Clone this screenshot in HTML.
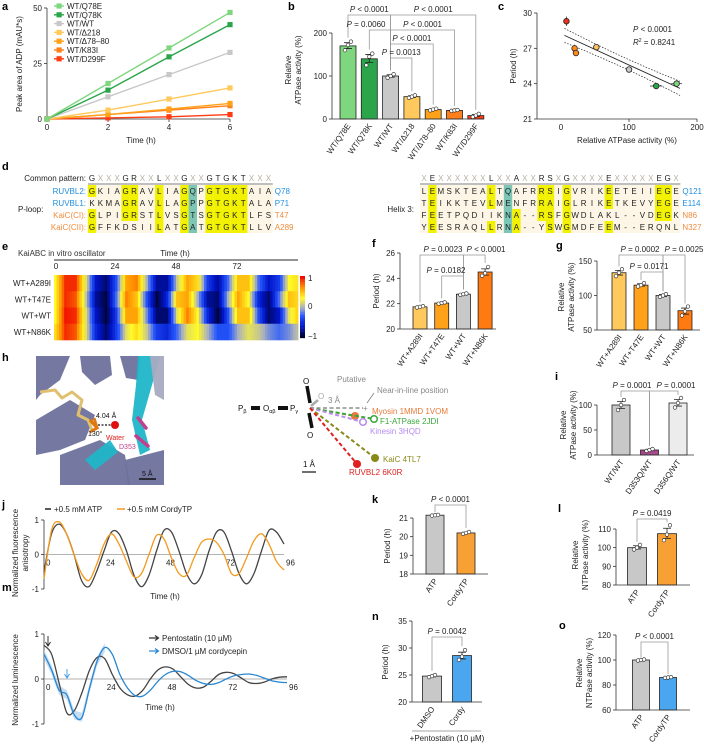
<!DOCTYPE html>
<html><head><meta charset="utf-8"><style>
html,body{margin:0;padding:0;background:#fff;}
svg{display:block;font-family:"Liberation Sans",Arial,sans-serif;}
</style></head><body>
<svg id="fig" width="704" height="744" viewBox="0 0 704 744" xmlns="http://www.w3.org/2000/svg">
<rect width="704" height="744" fill="#fff"/>
</svg>
<script>
// ---------- DATA ----------
const aTimes=[0,2,4,6];
const aSeries=['WT/Q78E','WT/Q78K','WT/WT','WT/Δ218','WT/Δ78–80','WT/K83I','WT/D299F'];
const aQ78E=[0,16,32,48];
const aQ78K=[0,13,28,42.5];
const aWT=[0,10,20,30];
const aD218=[0,4,9,14];
const aD7880=[0,2,4.5,7];
const aK83I=[0,2,4,6];
const aD299F=[0,0.5,1,2];
const aYTicks=[0,25,50];
const aXTicks=[0,2,4,6];

const bCats=['WT/Q78E','WT/Q78K','WT/WT','WT/Δ218','WT/Δ78–80','WT/K83I','WT/D299F'];
const bVals=[170,140,100,52,22,20,8];
const bErr=[10,12,3,2,1.5,1.5,3];
const bReps=[[160,172,180],[125,145,152],[96,100,104],[49,52,55],[20,22,24],[19,20,21],[5,8,12]];
const bTicks=[0,100,200];

const cX=[8,20,22,52,100,140,170];
const cY=[29.3,27.0,26.6,27.1,25.2,23.8,24.0];
const cXerr=[1,1,1,2,3,9,8];
const cYerr=[0.4,0.3,0.2,0.1,0.15,0.1,0.2];
const cFitX=[5,175];
const cFitY=[28.1,23.6];
const cXTicks=[100,200];
const cYTicks=[21,24,27,30];

const eRows=['WT+A289I','WT+T47E','WT+WT','WT+N86K'];
const eTimes=[0,4,8,12,16,20,24,28,32,36,40,44,48,52,56,60,64,68,72,76,80,84,88,92,96];
const eA289I=[0.3,0.9,0.9,0.2,-0.6,-0.8,-0.3,0.6,0.7,0,-0.7,-0.7,0.1,0.6,0.4,-0.4,-0.7,-0.2,0.5,0.5,-0.2,-0.6,-0.4,0.3,0.4];
const eT47E=[0.3,0.9,0.8,0.1,-0.7,-0.9,-0.2,0.7,0.5,-0.3,-0.9,-0.5,0.5,0.6,0,-0.7,-0.8,0,0.6,0.3,-0.5,-0.8,-0.2,0.5,0.4];
const eWT=[0.3,0.95,0.9,0.2,-0.6,-0.9,-0.4,0.6,0.6,-0.1,-0.8,-0.8,0.2,0.7,0.3,-0.5,-0.9,-0.3,0.5,0.5,-0.3,-0.8,-0.6,0.2,0.5];
const eN86K=[0.4,0.9,0.8,0.2,-0.5,-0.8,-0.4,0.2,0.4,0.1,-0.4,-0.5,-0.2,0.2,0.3,0,-0.3,-0.3,0,0.2,0.1,-0.1,-0.2,-0.1,0.1];
const eXTicks=[0,24,48,72];

const fCats=['WT+A289I','WT+T47E','WT+WT','WT+N86K'];
const fVals=[21.75,22.05,22.75,24.5];
const fReps=[[21.7,21.75,21.8],[22.0,22.05,22.1],[22.7,22.75,22.8],[24.2,24.4,24.9]];
const fTicks=[20,22,24,26];

const gCats=['WT+A289I','WT+T47E','WT+WT','WT+N86K'];
const gVals=[133,115,100,78];
const gReps=[[128,133,138],[113,115,118],[98,100,102],[71,77,84]];
const gTicks=[50,100,150];

const iCats=['WT/WT','D353Q/WT','D356Q/WT'];
const iVals=[100,10,104];
const iReps=[[90,100,110],[8,10,12],[95,104,114]];
const iTicks=[0,50,100];

const jTimes=[0,3,6,9,12,15,18,21,24,27,30,33,36,39,42,45,48,51,54,57,60,63,66,69,72,75,78,81,84,87,90,93,96];
const jATP=[-0.5,0.6,0.88,0.6,0.0,-0.75,-0.93,-0.5,0.1,0.65,0.6,0.1,-0.6,-0.93,-0.6,0.1,0.7,0.65,0.1,-0.55,-0.85,-0.6,0.1,0.65,0.65,0.1,-0.55,-0.85,-0.55,0.1,0.7,0.65,0.3];
const jCordy=[-0.7,0.7,0.95,0.6,0.0,-0.55,-0.75,-0.3,0.3,0.6,0.3,-0.2,-0.65,-0.55,0.0,0.55,0.45,-0.1,-0.55,-0.6,-0.1,0.35,0.45,0.35,0.0,-0.55,-0.55,-0.1,0.4,0.6,0.3,-0.2,-0.45];
const jXTicks=[0,24,48,72,96];
const jYTicks=[-1,0,1];

const kCats=['ATP','CordyTP'];
const kVals=[21.15,20.2];
const kReps=[[21.13,21.15,21.17],[20.15,20.2,20.25]];
const kTicks=[18,19,20,21];

const lCats=['ATP','CordyTP'];
const lVals=[100,107.5];
const lReps=[[99,100,101.5],[104,107,112]];
const lTicks=[80,90,100,110];

const mTimes=[0,3,6,9,12,15,18,21,24,27,30,33,36,39,42,45,48,51,54,57,60,63,66,69,72,75,78,81,84,87,90,93,96];
const mPento=[0.75,0.55,-0.1,-0.75,-0.7,-0.3,0.2,0.48,0.45,0.1,-0.2,-0.35,-0.38,-0.25,0.0,0.2,0.27,0.22,0.05,-0.12,-0.2,-0.18,-0.05,0.1,0.15,0.12,0.02,-0.08,-0.1,-0.07,0.0,0.04,0.05];
const mCordy=[0.55,0.2,-0.25,-0.35,-0.8,-0.85,-0.2,0.4,0.7,0.55,0.1,-0.2,-0.37,-0.38,-0.25,-0.05,0.1,0.17,0.16,0.08,-0.03,-0.1,-0.12,-0.08,0.0,0.07,0.1,0.11,0.08,0.02,-0.04,-0.07,-0.08];
const mXTicks=[0,24,48,72,96];
const mYTicks=[-1,0,1];

const nCats=['DMSO','Cordy'];
const nVals=[24.8,28.6];
const nReps=[[24.6,24.8,25.0],[27.8,28.4,29.6]];
const nTicks=[20,25,30,35];

const oCats=['ATP','CordyTP'];
const oVals=[100,86];
const oReps=[[99.6,100,100.4],[85.7,86,86.3]];
const oTicks=[60,80,100,120];

// ---------- HELPERS ----------
const NS='http://www.w3.org/2000/svg';
const svg=document.getElementById('fig');
function mk(tag,attrs,parent){const e=document.createElementNS(NS,tag);for(const k in attrs)e.setAttribute(k,attrs[k]);(parent||svg).appendChild(e);return e;}
function txt(x,y,s,opt,parent){const e=mk('text',Object.assign({x:x,y:y,'font-size':8,fill:'#222'},opt||{}),parent);e.textContent=s;return e;}
function lin(d0,d1,r0,r1){return v=>r0+(v-d0)/(d1-d0)*(r1-r0);}
function grp(name){const g=mk('g',{});


return g;}
function panelLabel(x,y,s){const t=txt(x,y,s,{'font-size':11,'font-weight':'bold',fill:'#000'});

}
function yAxis(g,x,ys,ticks){
const l=mk('line',{x1:x,x2:x,y1:ys(ticks[0]),y2:ys(ticks[ticks.length-1]),stroke:'#333','stroke-width':0.8},g);


ticks.forEach(v=>{const y=ys(v);
const tk=mk('line',{x1:x-3,x2:x,y1:y,y2:y,stroke:'#333','stroke-width':0.8},g);


const t=txt(x-5,y+3,String(v),{'text-anchor':'end'},g);

});}
function yTitle(g,x,y,lines){lines.forEach((s,i)=>{const t=txt(x+i*10,y,s,{'text-anchor':'middle',transform:`rotate(-90 ${x+i*10} ${y})`},g);

});}
function xAxis(g,y,xs,ticks,x0,x1,labelOffset){
const l=mk('line',{x1:x0,x2:x1,y1:y,y2:y,stroke:'#333','stroke-width':0.8},g);


ticks.forEach(v=>{const x=xs(v);
const tk=mk('line',{x1:x,x2:x,y1:y,y2:y+3,stroke:'#333','stroke-width':0.8},g);


const t=txt(x,y+(labelOffset||11),String(v),{'text-anchor':'middle'},g);

});}
function bracket(g,x1,x2,y,y1b,y2b,label,tx){
const p=mk('path',{d:`M${x1},${y1b} V${y} H${x2} V${y2b}`,fill:'none',stroke:'#999','stroke-width':0.8},g);


const t=txt(tx!==undefined?tx:(x1+x2)/2,y-3,'',{'text-anchor':'middle'},g);


const parts=label.split(' ');
const it=mk('tspan',{'font-style':'italic'},t);it.textContent=parts[0];
const rest=mk('tspan',{},t);rest.textContent=' '+parts.slice(1).join(' ');}
function bars(g,cats,vals,reps,colors,ys,base,cx0,step,w,axisX,xAxisEnd){
const cx=i=>cx0+i*step;
cats.forEach((c,i)=>{const top=ys(vals[i]);
const r=mk('rect',{x:cx(i)-w/2,y:top,width:w,height:base-top,fill:colors[i],stroke:'#222','stroke-width':0.8},g);


const rv=reps[i];const mn=rv.reduce((a,b)=>a+b,0)/rv.length;
const sd=Math.sqrt(rv.reduce((a,b)=>a+(b-mn)*(b-mn),0)/rv.length)/1.2;
const eb=mk('path',{d:`M${cx(i)},${ys(mn-sd)} V${ys(mn+sd)} M${cx(i)-4},${ys(mn+sd)} H${cx(i)+4} M${cx(i)-4},${ys(mn-sd)} H${cx(i)+4}`,stroke:'#222','stroke-width':0.8,fill:'none'},g);


rv.forEach((v,k)=>{const d=mk('circle',{cx:cx(i)+(k-1)*3,cy:ys(v),r:1.8,fill:'#fff',stroke:'#222','stroke-width':0.6},g);

});
const t=txt(cx(i)+3,base+7,c,{'text-anchor':'end',transform:`rotate(-55 ${cx(i)+3} ${base+7})`},g);

});
const xl=mk('line',{x1:axisX,x2:xAxisEnd,y1:base,y2:base,stroke:'#333','stroke-width':0.8},g);


return cx;}
function smooth(pts){let d=`M${pts[0][0].toFixed(1)},${pts[0][1].toFixed(1)}`;
for(let i=0;i<pts.length-1;i++){const p0=pts[i-1]||pts[i],p1=pts[i],p2=pts[i+1],p3=pts[i+2]||p2;
d+=` C${(p1[0]+(p2[0]-p0[0])/6).toFixed(1)},${(p1[1]+(p2[1]-p0[1])/6).toFixed(1)} ${(p2[0]-(p3[0]-p1[0])/6).toFixed(1)},${(p2[1]-(p3[1]-p1[1])/6).toFixed(1)} ${p2[0].toFixed(1)},${p2[1].toFixed(1)}`;}
return d;}

// ---------- PANEL A ----------
(function(){const g=grp('panel-a');panelLabel(2,10,'a');
const xs=lin(0,6,47,230),ys=lin(0,50,119,8);
yAxis(g,47,ys,aYTicks);xAxis(g,119,xs,aXTicks,47,230);
yTitle(g,22,64,['Peak area of ADP (mAU*s)']);
const tt=txt(141,143,'Time (h)',{'text-anchor':'middle'},g);


const series=[aQ78E,aQ78K,aWT,aD218,aD7880,aK83I,aD299F];
const cols=['#7ed67e','#2aa54a','#c8c8c8','#ffc95e','#ffa21a','#ff7f1a','#ff3c14'];
series.slice().reverse().forEach((s,ri)=>{const i=series.length-1-ri;
const pl=mk('polyline',{points:s.map((v,k)=>`${xs(aTimes[k])},${ys(v)}`).join(' '),fill:'none',stroke:cols[i],'stroke-width':1.4},g);


s.forEach((v,k)=>{const m=mk('rect',{x:xs(aTimes[k])-2.6,y:ys(v)-2.6,width:5.2,height:5.2,fill:cols[i]},g);

});});
aSeries.forEach((n,i)=>{const y=6+i*8.8;
const ll=mk('line',{x1:54,x2:64,y1:y,y2:y,stroke:cols[i],'stroke-width':1.4},g);


const lm=mk('rect',{x:56.5,y:y-2.6,width:5.2,height:5.2,fill:cols[i]},g);


const lt=txt(67,y+3,n,{},g);

});})();

// ---------- PANEL B ----------
(function(){const g=grp('panel-b');panelLabel(288,10,'b');
const ys=lin(0,200,119,33);
yAxis(g,332,ys,bTicks);yTitle(g,291,70,['Relative','ATPase activity (%)']);
const cols=['#7ed67e','#2aa54a','#c8c8c8','#ffc95e','#ffa21a','#ff7f1a','#ff3c14'];
const cx=bars(g,bCats,bVals,bReps,cols,ys,119,348,21.3,16,332,484);
const legB=i=>ys(Math.max(...bReps[i]))-4;
bracket(g,cx(0),cx(2),15,legB(0),legB(2),'P < 0.0001');
bracket(g,cx(2),cx(6),15,legB(2),legB(6),'P < 0.0001');
bracket(g,cx(1),cx(2),30,legB(1),legB(2),'P = 0.0060',366);
bracket(g,cx(2),cx(5),30,legB(2),legB(5),'P < 0.0001');
bracket(g,cx(2),cx(4),44,legB(2),legB(4),'P < 0.0001');
bracket(g,cx(2),cx(3),58,legB(2),legB(3),'P = 0.0013');})();

// ---------- PANEL C ----------
(function(){const g=grp('panel-c');panelLabel(498,10,'c');
const xs=lin(0,200,561,697),ys=lin(21,30,119,13);
yAxis(g,537,ys,cYTicks);
xAxis(g,119,xs,cXTicks,537,697);
const z=txt(561,130,'0',{'text-anchor':'middle'},g);


yTitle(g,516,66,['Period (h)']);
const tt=txt(627,143,'Relative ATPase activity (%)',{'text-anchor':'middle'},g);


const f=mk('line',{x1:xs(cFitX[0]),y1:ys(cFitY[0]),x2:xs(cFitX[1]),y2:ys(cFitY[1]),stroke:'#222','stroke-width':0.9},g);


[0.6,-0.6].forEach(off=>{const p=mk('path',{d:`M${xs(cFitX[0])},${ys(cFitY[0]+off)} Q${xs(90)},${ys((cFitY[0]+cFitY[1])/2+off*0.5)} ${xs(cFitX[1])},${ys(cFitY[1]+off)}`,fill:'none',stroke:'#222','stroke-width':0.7,'stroke-dasharray':'1.5,1.5'},g);

});
const cols=['#e8301c','#ff8a1a','#ff8a1a','#ffc45e','#c8c8c8','#2aa54a','#7ed67e'];
cX.forEach((v,i)=>{const e=mk('path',{d:`M${xs(v-cXerr[i])},${ys(cY[i])} H${xs(v+cXerr[i])} M${xs(v)},${ys(cY[i]-cYerr[i])} V${ys(cY[i]+cYerr[i])}`,stroke:'#222','stroke-width':0.7},g);


const c=mk('circle',{cx:xs(v),cy:ys(cY[i]),r:2.8,fill:cols[i],stroke:'#222','stroke-width':0.8},g);

});
const p1=txt(633,32,'',{},g);p1.innerHTML='<tspan font-style="italic">P</tspan> &lt; 0.0001';


const p2=txt(633,45,'',{},g);p2.innerHTML='<tspan font-style="italic">R</tspan><tspan font-size="5" dy="-3">2</tspan><tspan dy="3"> = 0.8241</tspan>';

})();

// ---------- PANEL D ----------
(function(){const g=grp('panel-d');panelLabel(2,170,'d');
const step=8.4;
const leftCommon='GXXXGRXXLXXGXXGTGKTXXX';
const leftRows=['GKIAGRAVLIAGQPGTGKTAIA','KKMAGRAVLLAGPPGTGKTALA','GLPIGRSTLVSGTSGTGKTLFS','GFFKDSIILATGATGTGKTLLV'];
const leftY=[[0,4,5,8,11,14,15,16,17,18],[4,5,8,11,14,15,16,17,18],[0,4,5,8,11,14,15,16,17,18],[0,8,11,14,15,16,17,18]];
const leftNames=['RUVBL2:','RUVBL1:','KaiC(CI):','KaiC(CII):'];
const leftEnd=['Q78','P71','T47','A289'];
const rightCommon='XEXXXXXXLXXAXXRSXGXXXXEXXXXXEGX';
const rightRows=['LEMSKTEALTQAFRRSIGVRIKEETEIIEGE','TEIKKTEVLMENFRRAIGLRIKETKEVYEGE','FEETPQDIIKNA--RSFGWDLAKL--VDEGK','YEESRAQLLRNA--YSWGMDFEEM--ERQNL'];
const rightY=[[1,8,14,15,17,22,28,29],[1,8,14,15,17,22,28,29],[1,11,14,15,17,28,29],[1,8,11,15,17,22]];
const rightEnd=['Q121','E114','N86','N327'];
const rowY=[191,203,215,227];
const nameCol=['#1f8fe0','#1f8fe0','#f08c3c','#f08c3c'];
function block(x0,common,rows,yl,ends){
const bg=mk('rect',{x:x0-4,y:185,width:common.length*step,height:48,fill:'#fdf6e6'},g);


const sep=mk('line',{x1:x0-4,x2:x0-4+common.length*step,y1:184,y2:184,stroke:'#999','stroke-width':1.2},g);


common.split('').forEach((ch,k)=>{const t=txt(x0+k*step,181,ch,{'text-anchor':'middle',fill:ch==='X'?'#b8b0a0':'#222'},g);

});
rows.forEach((r,ri)=>{r.split('').forEach((ch,k)=>{
if(yl[ri].includes(k)){const h=mk('rect',{x:x0+k*step-4.2,y:rowY[ri]-6,width:step,height:12,fill:'#f2f200'},g);

}
if(k===10+(common.length===22?2:0)){const h=mk('rect',{x:x0+k*step-4.2,y:rowY[ri]-6,width:step,height:12,fill:'#7cc6b6'},g);

}
const t=txt(x0+k*step,rowY[ri]+3,ch,{'text-anchor':'middle'},g);

});
const e=txt(x0+common.length*step-2,rowY[ri]+3,ends[ri],{fill:nameCol[ri]},g);

});}
block(92,leftCommon,leftRows,leftY,leftEnd);
block(424,rightCommon,rightRows,rightY,rightEnd);
const cp=txt(86,181,'Common pattern:',{'text-anchor':'end'},g);


leftNames.forEach((n,i)=>{const t=txt(86,rowY[i]+3,n,{'text-anchor':'end',fill:nameCol[i]},g);

});
const pl=txt(18,212,'P-loop:',{},g);


const hl=txt(414,212,'Helix 3:',{'text-anchor':'end'},g);

})();

// ---------- PANEL E ----------
(function(){const g=grp('panel-e');panelLabel(2,250,'e');
const st=txt(18,256,'KaiABC in vitro oscillator',{fill:'#333'},g);


const tt=txt(175,256,'Time (h)',{'text-anchor':'middle'},g);


const xs=lin(0,96,54,298);
const al=mk('line',{x1:54,x2:298,y1:260,y2:260,stroke:'#555','stroke-width':1.2},g);


eXTicks.forEach(v=>{const t=txt(xs(v)+(v===0?2:0),269,String(v),{'text-anchor':'middle'},g);

});
const stops=[[-1,[0,0,20]],[-0.6,[0,20,200]],[-0.25,[40,90,255]],[0,[170,175,190]],[0.3,[255,250,40]],[0.65,[255,150,0]],[1,[240,0,0]]];
function cmap(v){v=Math.max(-1,Math.min(1,v));for(let i=0;i<stops.length-1;i++){const [a,ca]=stops[i],[b,cb]=stops[i+1];if(v<=b){const t=(v-a)/(b-a);return `rgb(${ca.map((c,k)=>Math.round(c+(cb[k]-c)*t)).join(',')})`;}}return 'rgb(240,0,0)';}
const rows=[eA289I,eT47E,eWT,eN86K];
const rh=16.25,y0=275;
rows.forEach((r,ri)=>{
for(let k=0;k<eTimes.length-1;k++){for(let s=0;s<4;s++){const t0=eTimes[k]+s;const v=r[k]+(r[k+1]-r[k])*(s/4);
const c=mk('rect',{x:xs(t0),y:y0+ri*rh,width:xs(t0+1)-xs(t0)+0.4,height:rh+0.3,fill:cmap(v)},g);

}}
const lb=txt(51,y0+ri*rh+rh/2+3,eRows[ri],{'text-anchor':'end'},g);

});
for(let i=0;i<40;i++){const v=1-i*2/40;const c=mk('rect',{x:300,y:276+i*1.55,width:5,height:1.7,fill:cmap(v)},g);

}
[['1',281],['0',309],['−1',339]].forEach(([s,y])=>{const t=txt(308,y,s,{},g);

});})();

// ---------- PANEL F ----------
(function(){const g=grp('panel-f');panelLabel(372,247,'f');
const ys=lin(20,26,329,253);
yAxis(g,400,ys,fTicks);yTitle(g,379,291,['Period (h)']);
const cx=bars(g,fCats,fVals,fReps,['#ffc95e','#ffa21a','#c8c8c8','#ff7a10'],ys,329,420,21.7,14,400,496);
const lb=i=>ys(Math.max(...fReps[i]))-4;
bracket(g,cx(0),cx(2),255,lb(0),lb(2),'P = 0.0023',443);
bracket(g,cx(2),cx(3),255,lb(2),lb(3),'P < 0.0001',486);
bracket(g,cx(1),cx(2),276,lb(1),lb(2),'P = 0.0182',446);})();

// ---------- PANEL G ----------
(function(){const g=grp('panel-g');panelLabel(556,249,'g');
const ys=lin(50,150,330,261);
yAxis(g,597,ys,gTicks);yTitle(g,564,297,['Relative','ATPase activity (%)']);
const cx=bars(g,gCats,gVals,gReps,['#ffc95e','#ffa21a','#c8c8c8','#ff7a10'],ys,330,619,22,14,597,700);
const lb=i=>ys(Math.max(...gReps[i]))-3;
bracket(g,cx(0),cx(2),255,lb(0),lb(2),'P = 0.0002',640);
bracket(g,cx(2),cx(3),255,lb(2),lb(3),'P = 0.0025',684);
bracket(g,cx(1),cx(2),272,lb(1),lb(2),'P = 0.0171',649);})();

// ---------- PANEL H ----------
(function(){const g=grp('panel-h');panelLabel(2,361,'h');
const sg=grp('protein-structure-image');
const cl=mk('clipPath',{id:'hclip'},sg);mk('rect',{x:36,y:356,width:128,height:129},cl);
const s=mk('g',{'clip-path':'url(#hclip)'},sg);
mk('rect',{x:36,y:356,width:128,height:129,fill:'#fff'},s);
const P='#6e719c',C='#20b6c8';
[['M36,356 L70,356 L60,380 L40,395 L36,400Z',P],['M80,356 L110,356 L112,375 L95,385 L82,372Z',P],['M120,356 L140,356 L138,380 L126,378Z',P],
['M36,420 L70,400 L95,415 L85,440 L60,450 L36,455Z',P],['M60,455 L100,440 L125,455 L130,485 L60,485Z',P],['M125,460 L164,450 L164,485 L128,485Z',P],
['M85,460 L110,440 L118,452 L95,470Z',C],['M138,356 L160,356 L152,385 L142,420 L150,450 L140,455 L132,420 L136,385Z',C],['M150,356 L164,356 L164,400 L155,395Z','#a8aac0']].forEach(([d,f])=>{
const p=mk('path',{d:d,fill:f,opacity:0.95},s);

});
const lig=mk('path',{d:'M40,392 L55,390 L62,398 L72,392 L82,400 L78,415 L88,420 L92,430',fill:'none',stroke:'#e0c070','stroke-width':3,'stroke-linejoin':'round'},s);


const ph=mk('path',{d:'M90,420 L97,428 L90,432 M97,428 L94,418',fill:'none',stroke:'#e07810','stroke-width':3},s);


const d3=mk('path',{d:'M138,418 L146,428 M136,436 L148,446',fill:'none',stroke:'#c0408e','stroke-width':3.5,'stroke-linecap':'round'},s);


const dl=mk('line',{x1:98,y1:425,x2:112,y2:425,stroke:'#111','stroke-width':1.2,'stroke-dasharray':'2,1.5'},s);


const w=mk('circle',{cx:115,cy:425,r:4,fill:'#e01010'},s);


[['4.04 Å',96,418,'#111'],['130°',88,436,'#111'],['Water',106,440,'#e02020'],['D353',119,449,'#c0408e'],['5 Å',142,476,'#111']].forEach(([t,x,y,c])=>{const e=txt(x,y,t,{fill:c,'font-size':7},s);

});
const sb=mk('line',{x1:139,x2:156,y1:479,y2:479,stroke:'#111','stroke-width':1.5},s);


// geometry diagram
const dg=grp('geometry-diagram');
function lab(x,y,base,sub,fill){const t=txt(x,y,'',{fill:fill||'#111'},dg);t.innerHTML=base+(sub?`<tspan font-size="5.5" dy="2">${sub}</tspan>`:'');

}
lab(238,411,'P','β');lab(263,411,'O','αβ');lab(290,411,'P','γ');
[[251,260],[278,288]].forEach(([a,b])=>{const r=mk('rect',{x:a,y:406,width:b-a,height:4,fill:'#111'},dg);

});
const ps=[[310,403,307,386,'#111'],[309,413,312,428,'#111'],[311,406,318,400,'#aaa']];
ps.forEach(([a,b,c,d,col])=>{const l=mk('line',{x1:a,y1:b,x2:c,y2:d,stroke:col,'stroke-width':col==='#aaa'?2.5:3.5},dg);

});
lab(303,384,'O');lab(318,399,'O','', '#aaa');lab(307,438,'O');
const rays=[[363,408,'#aaa',null,'near-in-line'],[355,416,'#e87a3a','#e87a3a','myosin'],[374,419,'#3aa83a','#fff','f1-atpase'],[363,422,'#b78cf0','#fff','kinesin'],[375,458,'#8a8a1a','#8a8a1a','kaic'],[357,464,'#e02020','#e02020','ruvbl2']];
rays.forEach(([x,y,col,fill,n])=>{const l=mk('line',{x1:310,y1:408,x2:x,y2:y,stroke:col,'stroke-width':2,'stroke-dasharray':'4,2.5'},dg);


if(fill){const c=mk('circle',{cx:x,cy:y,r:3.3,fill:fill,stroke:col,'stroke-width':1.5},dg);

}});
const pls=txt(363,411,'+',{fill:'#888'},dg);


const ar=mk('line',{x1:374,y1:393,x2:367,y2:403,stroke:'#777','stroke-width':0.7},dg);


[['Putative',337,382,'#888'],['Near-in-line position',377,393,'#888'],['3 Å',328,403,'#888'],['Myosin 1MMD 1VOM',372,414,'#e87a3a'],['F1-ATPase 2JDI',380,424,'#3aa83a'],['Kinesin 3HQD',370,434,'#b78cf0'],['KaiC 4TL7',383,462,'#8a8a1a'],['RUVBL2 6K0R',349,475,'#e02020'],['1 Å',303,467,'#111']].forEach(([t,x,y,c])=>{const e=txt(x,y,t,{fill:c},dg);

});
const sb2=mk('line',{x1:302,x2:316,y1:472,y2:472,stroke:'#111','stroke-width':1.2},dg);

})();

// ---------- PANEL I ----------
(function(){const g=grp('panel-i');panelLabel(555,380,'i');
const ys=lin(0,100,455,405);
yAxis(g,597,ys,iTicks);yTitle(g,566,425,['Relative','ATPase activity (%)']);
const cx=bars(g,iCats,iVals,iReps,['#c8c8c8','#a8478c','#ececec'],ys,455,621,28.5,18,597,694);
const lb=i=>ys(Math.max(...iReps[i]))-3;
bracket(g,cx(0),cx(1),391,lb(0),lb(1),'P = 0.0001',632);
bracket(g,cx(1),cx(2),391,lb(1),lb(2),'P = 0.0001',676);})();

// ---------- PANEL J ----------
(function(){const g=grp('panel-j');panelLabel(2,508,'j');
const xs=lin(0,96,44,284),ys=lin(-1,1,589,520);
yAxis(g,44,ys,jYTicks);
const zl=mk('line',{x1:44,x2:284,y1:ys(0),y2:ys(0),stroke:'#999','stroke-width':0.8},g);


jXTicks.forEach(v=>{const t=txt(xs(v)+2,ys(0)+11,String(v),{},g);

});
yTitle(g,18,553,['Normalized fluorescence','anisotropy']);
const tt=txt(165,599,'Time (h)',{'text-anchor':'middle'},g);


const a=mk('path',{d:smooth(jTimes.map((t,i)=>[xs(t),ys(jATP[i])])),fill:'none',stroke:'#444','stroke-width':1.3},g);


const c=mk('path',{d:smooth(jTimes.map((t,i)=>[xs(t),ys(jCordy[i])])),fill:'none',stroke:'#f39a1e','stroke-width':1.3},g);


const l1=mk('line',{x1:45,x2:51,y1:509,y2:509,stroke:'#222','stroke-width':1.5},g);


const t1=txt(54,512,'+0.5 mM ATP',{},g);


const l2=mk('line',{x1:117,x2:125,y1:509,y2:509,stroke:'#f39a1e','stroke-width':1.5},g);


const t2=txt(127,512,'+0.5 mM CordyTP',{},g);

})();

// ---------- PANEL K ----------
(function(){const g=grp('panel-k');panelLabel(372,503,'k');
const ys=lin(18,21,574,518);
yAxis(g,413,ys,kTicks);yTitle(g,390,546,['Period (h)']);
const cx=bars(g,kCats,kVals,kReps,['#c8c8c8','#f7a034'],ys,574,435,31,18,413,488);
bracket(g,cx(0),cx(1),505,ys(21.2)-2,ys(20.3)-3,'P < 0.0001');})();

// ---------- PANEL L ----------
(function(){const g=grp('panel-l');panelLabel(558,512,'l');
const ys=lin(80,110,585,529);
yAxis(g,616,ys,lTicks);yTitle(g,578,555,['Relative','NTPase activity (%)']);
const cx=bars(g,lCats,lVals,lReps,['#c8c8c8','#f7a034'],ys,585,637,30,19,616,690);
bracket(g,cx(0),cx(1),519,ys(102)-2,ys(112)-3,'P = 0.0419');})();

// ---------- PANEL M ----------
(function(){const g=grp('panel-m');panelLabel(2,591,'m');
const xs=lin(0,96,44,287),ys=lin(-1,1,724,634);
yAxis(g,44,ys,mYTicks);
const zl=mk('line',{x1:44,x2:287,y1:ys(0),y2:ys(0),stroke:'#999','stroke-width':0.8},g);


mXTicks.forEach(v=>{const t=txt(xs(v)+2,ys(0)+11,String(v),{},g);

});
yTitle(g,18,680,['Normalized luminescence']);
const tt=txt(160,710,'Time (h)',{'text-anchor':'middle'},g);


const n=9;const up=mTimes.slice(0,n).map((t,i)=>[xs(t),ys(mCordy[i]+0.1)]);const dn=mTimes.slice(0,n).map((t,i)=>[xs(t),ys(mCordy[i]-0.1)]).reverse();
const band=mk('path',{d:'M'+up.map(p=>p.join(',')).join(' L')+' L'+dn.map(p=>p.join(',')).join(' L')+'Z',fill:'#9cc8ee',opacity:0.6},g);


const a=mk('path',{d:smooth(mTimes.map((t,i)=>[xs(t),ys(mPento[i])])),fill:'none',stroke:'#444','stroke-width':1.3},g);


const c=mk('path',{d:smooth(mTimes.map((t,i)=>[xs(t),ys(mCordy[i])])),fill:'none',stroke:'#2a86d0','stroke-width':1.3},g);


const ar1=mk('path',{d:'M48,636 V645 M45.5,642 L48,646 L50.5,642',fill:'none',stroke:'#222','stroke-width':0.9},g);


const ar2=mk('path',{d:'M67,669 V677 M64.5,674 L67,678 L69.5,674',fill:'none',stroke:'#3a9ae0','stroke-width':0.9},g);


[['#333',638,'Pentostatin (10 µM)'],['#2a86d0',651,'DMSO/1 µM cordycepin']].forEach(([col,y,s])=>{
const l=mk('path',{d:`M149,${y} H158 M155,${y-2.5} L158.5,${y} L155,${y+2.5}`,fill:'none',stroke:col,'stroke-width':1.2},g);


const t=txt(162,y+3,s,{},g);

});})();

// ---------- PANEL N ----------
(function(){const g=grp('panel-n');panelLabel(372,620,'n');
const ys=lin(20,35,702,621);
yAxis(g,412,ys,nTicks);yTitle(g,388,662,['Period (h)']);
const cx=bars(g,nCats,nVals,nReps,['#c8c8c8','#4aa6ee'],ys,702,432,30,19,412,482);
bracket(g,cx(0),cx(1),637,ys(25.2)-3,ys(29.8)-3,'P = 0.0042');
const ln=mk('line',{x1:412,x2:481,y1:731,y2:731,stroke:'#888','stroke-width':0.8},g);


const t=txt(447,741,'+Pentostatin (10 µM)',{'text-anchor':'middle'},g);

})();

// ---------- PANEL O ----------
(function(){const g=grp('panel-o');panelLabel(559,629,'o');
const ys=lin(60,120,710,635);
yAxis(g,616,ys,oTicks);yTitle(g,582,673,['Relative','NTPase activity (%)']);
const cx=bars(g,oCats,oVals,oReps,['#c8c8c8','#4aa6ee'],ys,710,641,27,17,616,690);
bracket(g,cx(0),cx(1),642,ys(100.5)-2,ys(86.5)-3,'P < 0.0001');})();
</script>
</body></html>
